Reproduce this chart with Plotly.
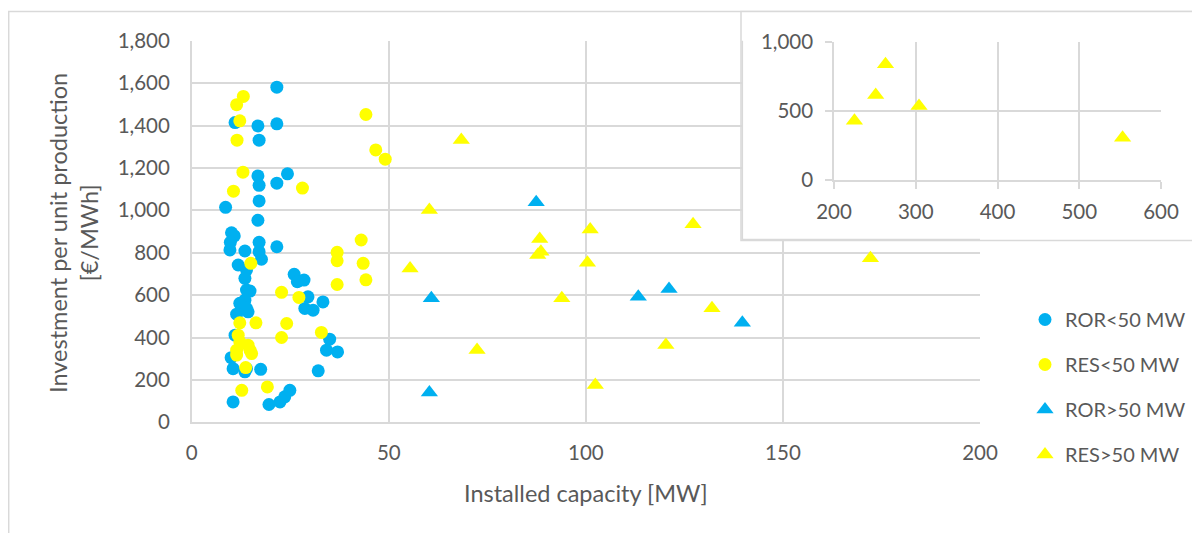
import plotly.graph_objects as go

# ---------------- data ----------------
ror_small_x = [21.6, 11.0, 16.8, 21.6, 17.1, 16.8, 24.3, 17.1, 21.6, 17.1, 8.6, 16.8, 10.1, 10.8,
               9.8, 9.7, 17.1, 17.1, 17.7, 21.6, 13.5, 11.8, 13.9, 13.5, 26.0, 26.8, 28.5, 13.9,
               14.8, 13.5, 12.2, 29.5, 28.7, 30.8, 33.3, 11.4, 14.3, 13.9, 35.0, 34.2, 37.0, 32.1,
               11.0, 10.0, 10.5, 13.5, 13.9, 17.5, 10.5, 19.6, 22.4, 23.6, 24.9]
ror_small_y = [1581, 1414, 1398, 1408, 1331, 1162, 1172, 1118, 1128, 1044, 1014, 953, 894, 879,
               849, 813, 849, 805, 769, 828, 808, 742, 718, 679, 698, 663, 671, 624,
               619, 576, 561, 592, 537, 529, 568, 510, 521, 537, 392, 340, 332, 243,
               411, 305, 253, 238, 253, 250, 96, 84, 96, 120, 151]

res_small_x = [13.1, 11.4, 12.2, 11.5, 44.2, 46.7, 49.1, 13.0, 10.6, 28.1, 43.0, 36.9, 36.9, 43.5,
               44.2, 36.9, 15.0, 22.8, 27.2, 12.2, 16.3, 24.1, 22.8, 32.9, 11.8, 12.2, 14.3, 14.8,
               11.4, 11.4, 15.2, 13.7, 12.7, 19.2]
res_small_y = [1537, 1498, 1422, 1331, 1452, 1285, 1241, 1180, 1090, 1105, 860, 802, 762, 750,
               672, 650, 750, 613, 589, 469, 469, 466, 400, 424, 411, 380, 364, 340,
               340, 317, 324, 258, 151, 167]

ror_large_x = [87.4, 60.8, 113.3, 121.1, 139.7, 60.3]
ror_large_y = [1038, 585, 592, 629, 470, 140]

res_large_x = [68.4, 60.3, 101.1, 127.2, 88.3, 88.6, 87.8, 100.4, 55.4, 93.9, 132.0, 72.4, 120.3, 102.4, 172.2]
res_large_y = [1332, 1001, 910, 934, 865, 805, 789, 753, 726, 585, 538, 341, 365, 176, 774]

inset_res_x = [225, 251, 263, 304, 553]
inset_res_y = [431, 617, 840, 537, 307]

main_xticks = [0, 50, 100, 150, 200]
main_yticks = [0, 200, 400, 600, 800, 1000, 1200, 1400, 1600, 1800]
inset_xticks = [200, 300, 400, 500, 600]
inset_yticks = [0, 500, 1000]

# ---------------- styling ----------------
W, H = 1200, 533
OFF = 8  # page offset of the figure
BLUE = "#00B0F0"
YELLOW = "#FFFF00"
GRID = "#D9D9D9"
TXT = "#595959"
FONT = "Lato"


def fx(px):
    return (px - OFF) / W


def fy(py):
    return 1 - (py - OFF) / H


fig = go.Figure()

fig.add_trace(go.Scatter(x=ror_small_x, y=ror_small_y, mode="markers", name="ROR<50 MW",
                         legendgroup="a", marker=dict(symbol="circle", size=13, color=BLUE)))
fig.add_trace(go.Scatter(x=res_small_x, y=res_small_y, mode="markers", name="RES<50 MW",
                         legendgroup="b", marker=dict(symbol="circle", size=13, color=YELLOW)))
fig.add_trace(go.Scatter(x=ror_large_x, y=ror_large_y, mode="markers", name="ROR>50 MW",
                         legendgroup="c", marker=dict(symbol="triangle-up", size=15, color=BLUE)))
fig.add_trace(go.Scatter(x=res_large_x, y=res_large_y, mode="markers", name="RES>50 MW",
                         legendgroup="d", marker=dict(symbol="triangle-up", size=15, color=YELLOW)))
fig.add_trace(go.Scatter(x=inset_res_x, y=inset_res_y, mode="markers", name="RES>50 MW",
                         showlegend=False, xaxis="x2", yaxis="y2",
                         marker=dict(symbol="triangle-up", size=15, color=YELLOW)))

tickfont = dict(family=FONT, size=20.5, color=TXT)

fig.update_layout(
    width=W, height=H,
    margin=dict(l=0, r=0, t=0, b=0),
    paper_bgcolor="white", plot_bgcolor="white",
    font=dict(family=FONT, color=TXT),
    xaxis=dict(domain=[fx(191.7), fx(980)], range=[0, 200], tickvals=main_xticks,
               showgrid=True, gridcolor=GRID, gridwidth=1.5, showline=True, linecolor=GRID,
               linewidth=1.5, zeroline=False, ticks="", tickfont=tickfont,
               ticklabelstandoff=11, automargin=False, anchor="y"),
    yaxis=dict(domain=[fy(422.3), fy(40.7)], range=[0, 1800], tickvals=main_yticks,
               tickformat=",", showgrid=True, gridcolor=GRID, gridwidth=1.5, showline=True,
               linecolor=GRID, linewidth=1.5, zeroline=False, ticks="", tickfont=tickfont,
               ticklabelstandoff=16, automargin=False, anchor="x"),
    xaxis2=dict(domain=[fx(834), fx(1161)], range=[200, 600], tickvals=inset_xticks,
                showgrid=True, gridcolor=GRID, gridwidth=1.5, showline=True, linecolor=GRID,
                linewidth=1.5, zeroline=False, ticks="outside", ticklen=7, tickcolor=GRID,
                tickwidth=1.5, tickfont=tickfont, ticklabelstandoff=6, automargin=False,
                anchor="y2"),
    yaxis2=dict(domain=[fy(180), fy(42.3)], range=[0, 1000], tickvals=inset_yticks,
                tickformat=",", showgrid=True, gridcolor=GRID, gridwidth=1.5, showline=True,
                linecolor=GRID, linewidth=1.5, zeroline=False, ticks="outside", ticklen=7,
                tickcolor=GRID, tickwidth=1.5, tickfont=tickfont, ticklabelstandoff=8,
                automargin=False, anchor="x2"),
    legend=dict(x=fx(1025), y=fy(300), xanchor="left", yanchor="top",
                font=dict(family=FONT, size=20, color=TXT), tracegroupgap=16,
                bgcolor="rgba(0,0,0,0)"),
    showlegend=True,
)

# outer chart frame and inset frame
fig.add_shape(type="rect", xref="paper", yref="paper", x0=fx(8.7), x1=fx(1230),
              y0=fy(560), y1=fy(11.5), line=dict(color=GRID, width=1.5),
              fillcolor="rgba(0,0,0,0)", layer="below")
fig.add_shape(type="rect", xref="paper", yref="paper", x0=fx(741), x1=fx(1230),
              y0=fy(240.5), y1=fy(11.5), line=dict(color=GRID, width=1.5),
              fillcolor="white", layer="below")
# white cover of main gridlines behind inset (above gridlines, below traces)
fig.add_shape(type="rect", xref="x", yref="y", x0=139.7, x1=260, y0=862, y1=2100,
              line=dict(color=GRID, width=1.5), fillcolor="white", layer="between")

# axis titles
fig.add_annotation(text="Installed capacity [MW]", xref="paper", yref="paper",
                   x=fx(586), y=fy(493), showarrow=False, xanchor="center", yanchor="middle",
                   font=dict(family=FONT, size=23.5, color=TXT))
fig.add_annotation(text="Investment per unit production<br>[€/MWh]", xref="paper", yref="paper",
                   x=fx(73), y=fy(233), showarrow=False, textangle=-90,
                   xanchor="center", yanchor="middle",
                   font=dict(family=FONT, size=23.5, color=TXT))

fig.write_html("out.html")
